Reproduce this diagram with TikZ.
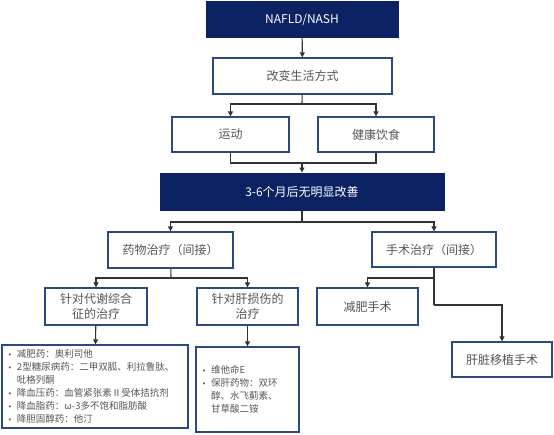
\documentclass[tikz,border=0pt]{standalone}
\usepackage{fontspec}
\setmainfont{Noto Sans CJK SC}
\newfontfamily\symfont{DejaVu Sans}
\usepackage{xcolor}
\usetikzlibrary{arrows.meta}
\definecolor{navyFill}{HTML}{0B2263}
\definecolor{boxBorder}{HTML}{2B4A80}
\definecolor{lineGray}{HTML}{333333}
\definecolor{textGray}{HTML}{555555}

\tikzset{
    navybox/.style={draw=navyFill, fill=navyFill, text=white, line width=1pt,
      minimum height=36pt, font=\fontsize{12}{14}\selectfont},
    whitebox/.style={draw=boxBorder, fill=white, text=textGray, line width=1.3pt,
      minimum height=36pt, align=center, font=\fontsize{12}{15}\selectfont},
    listbox/.style={draw=boxBorder, fill=white, text=textGray, line width=1.3pt,
      align=left, font=\fontsize{9.5}{13}\selectfont},
    link/.style={draw=lineGray, line width=1.1pt, -{Triangle[length=5pt,width=5pt]}},
    plainlink/.style={draw=lineGray, line width=1.1pt}
}
\newcommand{\pt}{\makebox[9pt][l]{{\symfont\fontsize{7}{7}\selectfont •}}}

\begin{document}
\begin{tikzpicture}[x=1pt, y=-1pt]
    \useasboundingbox (0,0) rectangle (554,434);

    % top of the chart
    \node[navybox, minimum width=192pt] (nafld) at (302,19.5) {NAFLD/NASH};
    \node[whitebox, minimum width=179pt] (life) at (302.5,76) {改变生活方式};
    \node[whitebox, minimum width=117pt, minimum height=35pt] (sport) at (230.5,134.5) {运动};
    \node[whitebox, minimum width=116pt, minimum height=35pt] (diet) at (376,134.5) {健康饮食};
    \node[navybox, minimum width=284pt, minimum height=37pt] (nochange) at (302,191.5) {3-6个月后无明显改善};

    % two branches
    \node[whitebox, minimum width=125pt] (drug) at (170.5,250) {药物治疗（间接）};
    \node[whitebox, minimum width=124pt, minimum height=35pt] (surgery) at (434,249.5) {手术治疗（间接）};
    \node[whitebox, minimum width=102pt, minimum height=37pt] (metab) at (96,306.5) {针对代谢综合\\征的治疗};
    \node[whitebox, minimum width=101pt, minimum height=37pt] (liverdmg) at (247.5,306.5) {针对肝损伤的\\治疗};
    \node[whitebox, minimum width=101pt, minimum height=37pt] (bariatric) at (367.5,306.5) {减肥手术};
    \node[whitebox, minimum width=100pt, minimum height=35pt] (transplant) at (502,359.5) {肝脏移植手术};

    % drug lists
    \node[listbox, minimum width=186pt, minimum height=83pt, text width=174pt] (metablist) at (95,386.5) {%
      \pt 减肥药：奥利司他\\
      \pt 2型糖尿病药：二甲双胍、利拉鲁肽、\\
      \hspace*{9pt}吡格列酮\\
      \pt 降血压药：血管紧张素Ⅱ受体拮抗剂\\
      \pt 降血脂药：ω-3多不饱和脂肪酸\\
      \pt 降胆固醇药：他汀};
    \node[listbox, minimum width=103pt, minimum height=85pt, text width=91pt] (liverlist) at (247.5,389.5) {%
      \pt 维他命E\\
      \pt 保肝药物：双环\\
      \hspace*{9pt}醇、水飞蓟素、\\
      \hspace*{9pt}甘草酸二铵};

    % junctions
    \coordinate (jlife) at (302,104);
    \coordinate (jmerge) at (302,163);
    \coordinate (jsplit) at (302,222);
    \coordinate (jdrug) at (171,278);
    \coordinate (jsurg) at (434,278);
    \coordinate (jtrans) at (434,305);

    % connectors
    \draw[link] (nafld) -- (life);
    \draw[plainlink] (life) -- (jlife);
    \draw[link] (jlife) -| (sport);
    \draw[link] (jlife) -| (diet);
    \draw[plainlink] (sport) |- (jmerge);
    \draw[plainlink] (diet) |- (jmerge);
    \draw[link] (jmerge) -- (nochange);
    \draw[plainlink] (nochange) -- (jsplit);
    \draw[link] (jsplit) -| (drug);
    \draw[link] (jsplit) -| (surgery);
    \draw[plainlink] (drug) -- (jdrug);
    \draw[link] (jdrug) -| (metab);
    \draw[link] (jdrug) -| (liverdmg);
    \draw[plainlink] (surgery) -- (jtrans);
    \draw[link] (jsurg) -| (bariatric);
    \draw[link] (jtrans) -| (transplant);
    \draw[link] (metab) -- (metablist);
    \draw[link] (liverdmg) -- (liverlist);
\end{tikzpicture}
\end{document}
